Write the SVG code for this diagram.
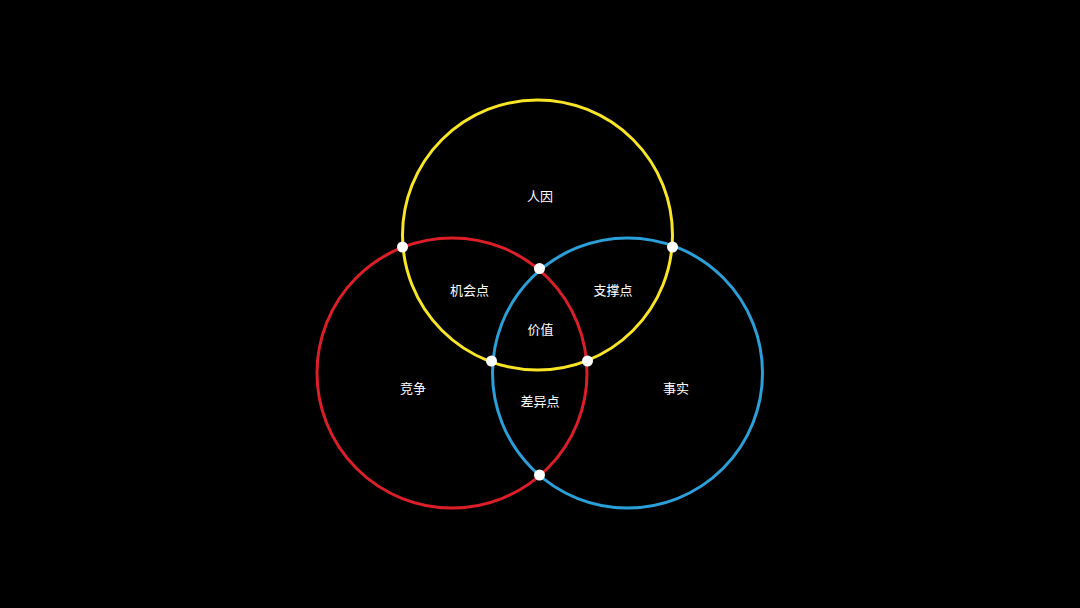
<svg xmlns="http://www.w3.org/2000/svg" width="1080" height="608" viewBox="0 0 1080 608">
<style>
.ring{fill:none;stroke-width:3}
.lbl{font-family:"Noto Sans CJK SC","Noto Sans",sans-serif;font-size:13px;fill:#ffffff;text-anchor:middle}
.dot{fill:#ffffff}
</style>
<rect width="1080" height="608" fill="#000000"/>
<g id="connectors">
<circle class="ring" cx="452" cy="373" r="135" stroke="#dc1e28"/>
<circle class="ring" cx="627.5" cy="373" r="135" stroke="#2a9fd8"/>
<circle class="ring" cx="537.5" cy="235" r="135" stroke="#f7e526"/>
<circle class="dot" cx="402.5" cy="247" r="5.5"/>
<circle class="dot" cx="672.5" cy="247" r="5.5"/>
<circle class="dot" cx="539.5" cy="268.5" r="5.5"/>
<circle class="dot" cx="491.5" cy="361" r="5.5"/>
<circle class="dot" cx="587.5" cy="361" r="5.5"/>
<circle class="dot" cx="539.5" cy="475" r="5.5"/>
</g>
<g id="node-renyin"><text class="lbl" x="540" y="201">人因</text></g>
<g id="node-jihuidian"><text class="lbl" x="469.5" y="295">机会点</text></g>
<g id="node-zhichengdian"><text class="lbl" x="613" y="295">支撑点</text></g>
<g id="node-jiazhi"><text class="lbl" x="540.5" y="334">价值</text></g>
<g id="node-jingzheng"><text class="lbl" x="413" y="393">竞争</text></g>
<g id="node-chayidian"><text class="lbl" x="540" y="406">差异点</text></g>
<g id="node-shishi"><text class="lbl" x="676" y="393">事实</text></g>
</svg>
